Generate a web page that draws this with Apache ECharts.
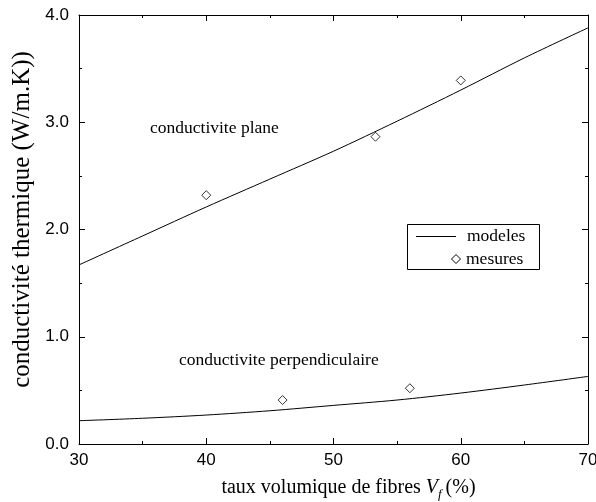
<!DOCTYPE html>
<html>
<head>
<meta charset="utf-8">
<script src="https://cdn.jsdelivr.net/npm/echarts@6/dist/echarts.min.js"></script>
<style>
html, body { margin: 0; padding: 0; background: #fff; }
#chart { width: 596px; height: 502px; }
</style>
</head>
<body>
<div id="chart"></div>
<script>
// courbes modeles
var modelX = [30, 35, 40, 45, 50, 55, 60, 65, 70];
var modelPlane = [1.67, 1.94, 2.21, 2.47, 2.73, 3.01, 3.30, 3.60, 3.88];
var modelPerp = [0.217, 0.24, 0.27, 0.31, 0.36, 0.41, 0.475, 0.55, 0.63];
// points mesures
var mesPlaneX = [40, 53.3, 60];
var mesPlane = [2.32, 2.865, 3.39];
var mesPerpX = [46, 56];
var mesPerp = [0.41, 0.52];

var serif = 'Liberation Serif';
var sans = 'Liberation Sans';

function zip(xs, ys) {
    var out = [];
    for (var i = 0; i < xs.length; i++) out.push([xs[i], ys[i]]);
    return out;
}

function axisBase(extra) {
    var a = {
        type: 'value',
        axisLine: { onZero: false, lineStyle: { color: '#000', width: 1 } },
        axisTick: { inside: true, length: 6, lineStyle: { color: '#000' } },
        minorTick: { show: true, splitNumber: 2, length: 3, lineStyle: { color: '#000' } },
        splitLine: { show: false },
        minorSplitLine: { show: false },
        axisLabel: { show: false }
    };
    for (var k in extra) a[k] = extra[k];
    return a;
}

var chart = echarts.init(document.getElementById('chart'));

var option = {
    animation: false,
    backgroundColor: '#fff',
    grid: { left: 79, right: 8, top: 15, bottom: 58, outerBoundsMode: 'none', containLabel: false },
    xAxis: [
        axisBase({
            min: 30, max: 70, interval: 10, position: 'bottom',
            axisLabel: { show: true, color: '#000', fontFamily: sans, fontSize: 17, margin: 8 },
            name: '{a|taux volumique de fibres }{v|V}{s|f}{a|(%)}',
            nameLocation: 'middle',
            nameGap: 34,
            nameTextStyle: {
                color: '#000',
                padding: [0, 0, 0, 30],
                rich: {
                    a: { fontFamily: serif, fontSize: 20, color: '#000', verticalAlign: 'top' },
                    v: { fontFamily: serif, fontSize: 20, fontStyle: 'italic', color: '#000', verticalAlign: 'top' },
                    s: { fontFamily: serif, fontSize: 13, fontStyle: 'italic', color: '#000', verticalAlign: 'top', padding: [10, 4, 0, 0] }
                }
            }
        }),
        axisBase({ min: 30, max: 70, interval: 10, position: 'top' })
    ],
    yAxis: [
        axisBase({
            min: 0, max: 4, interval: 1, position: 'left',
            axisLabel: {
                show: true, color: '#000', fontFamily: sans, fontSize: 17, margin: 10,
                formatter: function (v) { return v.toFixed(1); }
            },
            name: 'conductivité thermique (W/m.K))',
            nameLocation: 'middle',
            nameGap: 40,
            nameTextStyle: { color: '#000', fontFamily: serif, fontSize: 25, padding: [0, 0, 0, 20] }
        }),
        axisBase({ min: 0, max: 4, interval: 1, position: 'right' })
    ],
    series: [
        {
            name: 'modeles', type: 'line', data: zip(modelX, modelPlane),
            showSymbol: false, smooth: 0.3, lineStyle: { color: '#000', width: 1 }
        },
        {
            name: 'modeles', type: 'line', data: zip(modelX, modelPerp),
            showSymbol: false, smooth: 0.3, lineStyle: { color: '#000', width: 1 }
        },
        {
            name: 'mesures', type: 'scatter', data: zip(mesPlaneX, mesPlane),
            symbol: 'diamond', symbolSize: 9,
            itemStyle: { color: '#fff', borderColor: '#000', borderWidth: 1 }
        },
        {
            name: 'mesures', type: 'scatter', data: zip(mesPerpX, mesPerp),
            symbol: 'diamond', symbolSize: 9,
            itemStyle: { color: '#fff', borderColor: '#000', borderWidth: 1 }
        }
    ],
    graphic: [
        {
            type: 'text', x: 150, y: 128, z: 10,
            style: { text: 'conductivite plane', fill: '#000', font: '17.5px "' + serif + '"', textVerticalAlign: 'middle' }
        },
        {
            type: 'text', x: 179, y: 360, z: 10,
            style: { text: 'conductivite perpendiculaire', fill: '#000', font: '17.5px "' + serif + '"', textVerticalAlign: 'middle' }
        },
        // legende
        {
            type: 'rect', z: 10,
            shape: { x: 407.5, y: 224.5, width: 132, height: 45 },
            style: { fill: '#fff', stroke: '#000', lineWidth: 1 }
        },
        {
            type: 'line', z: 11,
            shape: { x1: 416, y1: 236.5, x2: 456, y2: 236.5 },
            style: { stroke: '#000', lineWidth: 1 }
        },
        {
            type: 'text', x: 467, y: 236, z: 11,
            style: { text: 'modeles', fill: '#000', font: '17.5px "' + serif + '"', textVerticalAlign: 'middle' }
        },
        {
            type: 'polygon', z: 11,
            shape: { points: [[456, 254.5], [460.5, 259], [456, 263.5], [451.5, 259]] },
            style: { fill: '#fff', stroke: '#000', lineWidth: 1 }
        },
        {
            type: 'text', x: 466, y: 259, z: 11,
            style: { text: 'mesures', fill: '#000', font: '17.5px "' + serif + '"', textVerticalAlign: 'middle' }
        }
    ]
};

chart.setOption(option);
</script>
</body>
</html>
